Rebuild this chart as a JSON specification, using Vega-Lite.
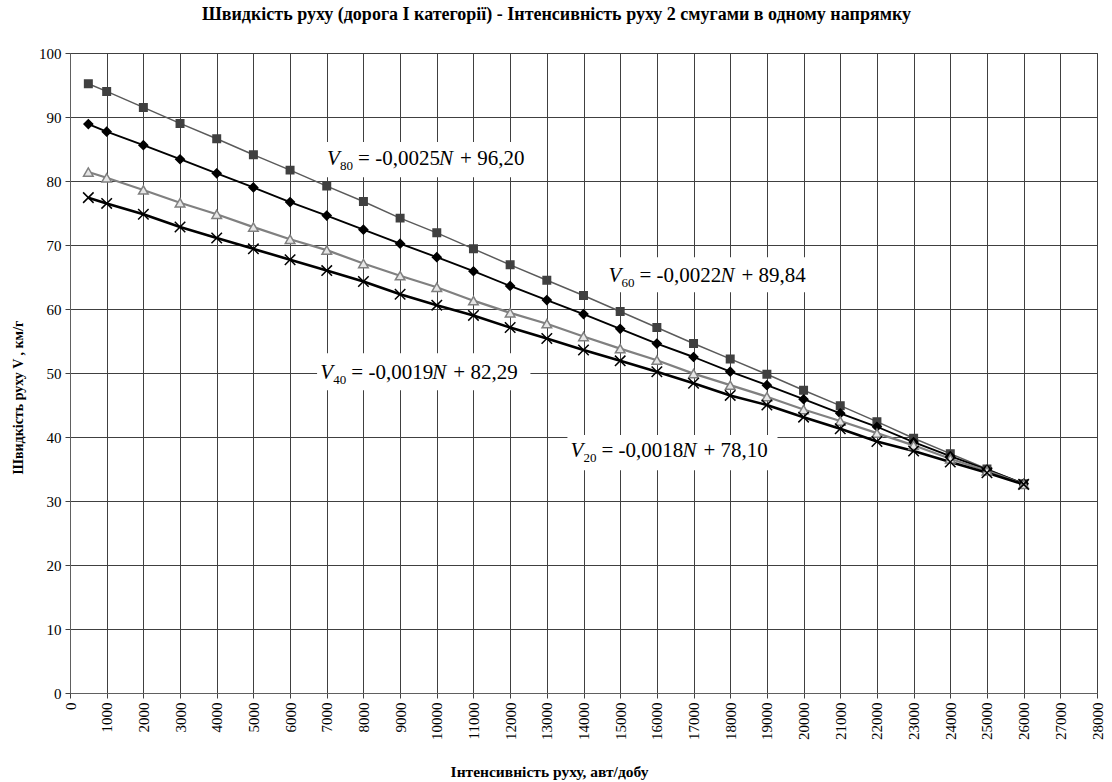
{
  "$schema": "https://vega.github.io/schema/vega-lite/v6.json",
  "autosize": "none",
  "width": 1027,
  "height": 640,
  "padding": {"left": 70, "top": 53, "right": 15, "bottom": 89},
  "background": "white",
  "config": {
    "font": "Liberation Serif, Times New Roman, serif",
    "view": {"stroke": "#404040", "strokeWidth": 1},
    "text": {"font": "Liberation Serif, Times New Roman, serif"}
  },
  "title": {
    "text": "Швидкість руху (дорога І категорії) - Інтенсивність руху 2 смугами в одному напрямку",
    "font": "Liberation Serif, Times New Roman, serif",
    "fontSize": 18,
    "fontWeight": "bold",
    "color": "#000000",
    "anchor": "middle",
    "frame": "group",
    "dx": -27,
    "offset": 22
  },
  "datasets": {
    "series": [
      {"N":500,"s":"V80","v":95.2},{"N":1000,"s":"V80","v":94.0},{"N":2000,"s":"V80","v":91.5},{"N":3000,"s":"V80","v":89.0},{"N":4000,"s":"V80","v":86.6},{"N":5000,"s":"V80","v":84.1},{"N":6000,"s":"V80","v":81.7},{"N":7000,"s":"V80","v":79.2},{"N":8000,"s":"V80","v":76.8},{"N":9000,"s":"V80","v":74.2},{"N":10000,"s":"V80","v":71.9},{"N":11000,"s":"V80","v":69.4},{"N":12000,"s":"V80","v":66.9},{"N":13000,"s":"V80","v":64.5},{"N":14000,"s":"V80","v":62.1},{"N":15000,"s":"V80","v":59.6},{"N":16000,"s":"V80","v":57.1},{"N":17000,"s":"V80","v":54.6},{"N":18000,"s":"V80","v":52.2},{"N":19000,"s":"V80","v":49.8},{"N":20000,"s":"V80","v":47.3},{"N":21000,"s":"V80","v":44.9},{"N":22000,"s":"V80","v":42.4},{"N":23000,"s":"V80","v":39.8},{"N":24000,"s":"V80","v":37.4},{"N":25000,"s":"V80","v":35.0},{"N":26000,"s":"V80","v":32.7},
      {"N":500,"s":"V60","v":88.9},{"N":1000,"s":"V60","v":87.7},{"N":2000,"s":"V60","v":85.6},{"N":3000,"s":"V60","v":83.4},{"N":4000,"s":"V60","v":81.2},{"N":5000,"s":"V60","v":79.0},{"N":6000,"s":"V60","v":76.7},{"N":7000,"s":"V60","v":74.6},{"N":8000,"s":"V60","v":72.4},{"N":9000,"s":"V60","v":70.2},{"N":10000,"s":"V60","v":68.1},{"N":11000,"s":"V60","v":65.9},{"N":12000,"s":"V60","v":63.6},{"N":13000,"s":"V60","v":61.4},{"N":14000,"s":"V60","v":59.2},{"N":15000,"s":"V60","v":56.9},{"N":16000,"s":"V60","v":54.6},{"N":17000,"s":"V60","v":52.5},{"N":18000,"s":"V60","v":50.2},{"N":19000,"s":"V60","v":48.1},{"N":20000,"s":"V60","v":45.9},{"N":21000,"s":"V60","v":43.7},{"N":22000,"s":"V60","v":41.6},{"N":23000,"s":"V60","v":39.2},{"N":24000,"s":"V60","v":37.0},{"N":25000,"s":"V60","v":34.9},{"N":26000,"s":"V60","v":32.7},
      {"N":500,"s":"V40","v":81.4},{"N":1000,"s":"V40","v":80.5},{"N":2000,"s":"V40","v":78.6},{"N":3000,"s":"V40","v":76.6},{"N":4000,"s":"V40","v":74.8},{"N":5000,"s":"V40","v":72.8},{"N":6000,"s":"V40","v":70.9},{"N":7000,"s":"V40","v":69.2},{"N":8000,"s":"V40","v":67.1},{"N":9000,"s":"V40","v":65.2},{"N":10000,"s":"V40","v":63.4},{"N":11000,"s":"V40","v":61.3},{"N":12000,"s":"V40","v":59.4},{"N":13000,"s":"V40","v":57.7},{"N":14000,"s":"V40","v":55.7},{"N":15000,"s":"V40","v":53.8},{"N":16000,"s":"V40","v":52.0},{"N":17000,"s":"V40","v":49.9},{"N":18000,"s":"V40","v":48.1},{"N":19000,"s":"V40","v":46.3},{"N":20000,"s":"V40","v":44.3},{"N":21000,"s":"V40","v":42.5},{"N":22000,"s":"V40","v":40.6},{"N":23000,"s":"V40","v":38.7},{"N":24000,"s":"V40","v":36.6},{"N":25000,"s":"V40","v":34.7},{"N":26000,"s":"V40","v":32.6},
      {"N":500,"s":"V20","v":77.4},{"N":1000,"s":"V20","v":76.5},{"N":2000,"s":"V20","v":74.8},{"N":3000,"s":"V20","v":72.8},{"N":4000,"s":"V20","v":71.1},{"N":5000,"s":"V20","v":69.4},{"N":6000,"s":"V20","v":67.7},{"N":7000,"s":"V20","v":66.0},{"N":8000,"s":"V20","v":64.3},{"N":9000,"s":"V20","v":62.3},{"N":10000,"s":"V20","v":60.6},{"N":11000,"s":"V20","v":59.0},{"N":12000,"s":"V20","v":57.1},{"N":13000,"s":"V20","v":55.4},{"N":14000,"s":"V20","v":53.6},{"N":15000,"s":"V20","v":51.9},{"N":16000,"s":"V20","v":50.2},{"N":17000,"s":"V20","v":48.4},{"N":18000,"s":"V20","v":46.5},{"N":19000,"s":"V20","v":45.0},{"N":20000,"s":"V20","v":43.1},{"N":21000,"s":"V20","v":41.3},{"N":22000,"s":"V20","v":39.3},{"N":23000,"s":"V20","v":37.8},{"N":24000,"s":"V20","v":36.1},{"N":25000,"s":"V20","v":34.4},{"N":26000,"s":"V20","v":32.6}
    ],
    "ann": [
      {"name":"V80","N":7009,"v":82.45,"N0":6880,"N1":12553,"v0":80.6,"v1":86.1,"sub":"80","mid":"= -0,0025","tail":"+ 96,20"},
      {"name":"V60","N":14680,"v":64.2,"N0":14572,"N1":20406,"v0":62.6,"v1":68.1,"sub":"60","mid":"= -0,0022","tail":"+ 89,84"},
      {"name":"V40","N":6826,"v":49.1,"N0":6736,"N1":12553,"v0":47.3,"v1":53.1,"sub":"40","mid":"= -0,0019","tail":"+ 82,29"},
      {"name":"V20","N":13643,"v":36.9,"N0":13562,"N1":19289,"v0":34.8,"v1":40.3,"sub":"20","mid":"= -0,0018","tail":"+ 78,10"}
    ]
  },
  "encoding": {
    "x": {"field": "N", "type": "quantitative", "scale": {"domain": [0, 28000], "nice": false, "zero": false},
      "axis": {
        "values": [0,1000,2000,3000,4000,5000,6000,7000,8000,9000,10000,11000,12000,13000,14000,15000,16000,17000,18000,19000,20000,21000,22000,23000,24000,25000,26000,27000,28000],
        "format": "d",
        "labelAngle": -90,
        "labelFont": "Liberation Serif, Times New Roman, serif",
        "labelFontSize": 15,
        "labelColor": "#000000",
        "labelPadding": 4,
        "labelOverlap": false,
        "labelFlush": false,
        "tickSize": 5,
        "tickColor": "#404040",
        "domainColor": "#606060",
        "gridColor": "#404040",
        "gridOpacity": 1,
        "grid": true,
        "title": "Інтенсивність руху, авт/добу",
        "titleFont": "Liberation Serif, Times New Roman, serif",
        "titleFontSize": 15.5,
        "titleFontWeight": "bold",
        "titleColor": "#000000",
        "titleX": 479,
        "titleY": 78,
        "titleAlign": "center",
        "titleBaseline": "middle"
      }},
    "y": {"field": "v", "type": "quantitative", "scale": {"domain": [0, 100], "nice": false},
      "axis": {
        "values": [0,10,20,30,40,50,60,70,80,90,100],
        "labelFont": "Liberation Serif, Times New Roman, serif",
        "labelFontSize": 15,
        "labelColor": "#000000",
        "labelPadding": 4,
        "tickSize": 5,
        "tickColor": "#404040",
        "domainColor": "#606060",
        "gridColor": "#404040",
        "gridOpacity": 1,
        "grid": true,
        "title": "Швидкість руху  V , км/г",
        "titleFont": "Liberation Serif, Times New Roman, serif",
        "titleFontSize": 14,
        "titleFontWeight": "bold",
        "titleColor": "#000000",
        "titleX": -52,
        "titleY": 344,
        "titleAngle": -90,
        "titleAlign": "center",
        "titleBaseline": "middle"
      }}
  },
  "layer": [
    {
      "data": {"name": "ann"},
      "mark": {"type": "rect", "fill": "white", "stroke": null},
      "encoding": {
        "x": {"field": "N0", "type": "quantitative", "scale": {"domain": [0, 28000], "nice": false, "zero": false},
          "axis": {
            "values": [0,1000,2000,3000,4000,5000,6000,7000,8000,9000,10000,11000,12000,13000,14000,15000,16000,17000,18000,19000,20000,21000,22000,23000,24000,25000,26000,27000,28000],
            "format": "d",
            "labelAngle": -90,
            "labelFont": "Liberation Serif, Times New Roman, serif",
            "labelFontSize": 15,
            "labelColor": "#000000",
            "labelPadding": 4,
            "labelOverlap": false,
            "labelFlush": false,
            "tickSize": 5,
            "tickColor": "#404040",
            "domainColor": "#606060",
            "gridColor": "#404040",
            "gridOpacity": 1,
            "grid": true,
            "title": "Інтенсивність руху, авт/добу",
            "titleFont": "Liberation Serif, Times New Roman, serif",
            "titleFontSize": 15.5,
            "titleFontWeight": "bold",
            "titleColor": "#000000",
            "titleX": 479,
            "titleY": 78,
            "titleAlign": "center",
            "titleBaseline": "middle"
          }},
        "x2": {"field": "N1"},
        "y": {"field": "v0", "type": "quantitative", "scale": {"domain": [0, 100], "nice": false},
          "axis": {
            "values": [0,10,20,30,40,50,60,70,80,90,100],
            "labelFont": "Liberation Serif, Times New Roman, serif",
            "labelFontSize": 15,
            "labelColor": "#000000",
            "labelPadding": 4,
            "tickSize": 5,
            "tickColor": "#404040",
            "domainColor": "#606060",
            "gridColor": "#404040",
            "gridOpacity": 1,
            "grid": true,
            "title": "Швидкість руху  V , км/г",
            "titleFont": "Liberation Serif, Times New Roman, serif",
            "titleFontSize": 14,
            "titleFontWeight": "bold",
            "titleColor": "#000000",
            "titleX": -52,
            "titleY": 344,
            "titleAngle": -90,
            "titleAlign": "center",
            "titleBaseline": "middle"
          }},
        "y2": {"field": "v1"}
      }
    },
    {
      "data": {"name": "series"},
      "mark": {"type": "line", "strokeCap": "butt", "strokeJoin": "round"},
      "encoding": {
        "color": {"field": "s", "type": "nominal", "scale": {"domain": ["V80","V60","V40","V20"], "range": ["#5a5a5a","#000000","#808080","#000000"]}, "legend": null},
        "strokeWidth": {"field": "s", "type": "nominal", "scale": {"domain": ["V80","V60","V40","V20"], "range": [1.5, 2.6, 3.2, 2.6]}, "legend": null},
        "order": {"field": "N", "type": "quantitative"}
      }
    },
    {
      "data": {"name": "series"},
      "mark": {"type": "point", "opacity": 1, "fillOpacity": 1, "strokeWidth": 1.5},
      "encoding": {
        "shape": {"field": "s", "type": "nominal", "scale": {"domain": ["V80","V60","V40","V20"], "range": ["square","diamond","triangle-up","M-1,-1L1,1M1,-1L-1,1"]}, "legend": null},
        "size": {"field": "s", "type": "nominal", "scale": {"domain": ["V80","V60","V40","V20"], "range": [56, 110, 70, 144]}, "legend": null},
        "fill": {"field": "s", "type": "nominal", "scale": {"domain": ["V80","V60","V40","V20"], "range": ["#404040","#000000","#e6e6e6","transparent"]}, "legend": null},
        "stroke": {"field": "s", "type": "nominal", "scale": {"domain": ["V80","V60","V40","V20"], "range": ["#404040","#000000","#808080","#000000"]}, "legend": null}
      }
    },
    {
      "data": {"name": "ann"},
      "mark": {"type": "text", "font": "Liberation Serif, Times New Roman, serif", "fontSize": 21, "fontStyle": "italic", "align": "left", "baseline": "alphabetic", "color": "#000000"},
      "encoding": {
        "text": {"value": "V"}
      }
    },
    {
      "data": {"name": "ann"},
      "mark": {"type": "text", "font": "Liberation Serif, Times New Roman, serif", "fontSize": 13, "align": "left", "baseline": "alphabetic", "dx": 13, "dy": 5, "color": "#000000"},
      "encoding": {
        "text": {"field": "sub"}
      }
    },
    {
      "data": {"name": "ann"},
      "mark": {"type": "text", "font": "Liberation Serif, Times New Roman, serif", "fontSize": 21, "align": "left", "baseline": "alphabetic", "dx": 31, "color": "#000000"},
      "encoding": {
        "text": {"field": "mid"}
      }
    },
    {
      "data": {"name": "ann"},
      "mark": {"type": "text", "font": "Liberation Serif, Times New Roman, serif", "fontSize": 21, "fontStyle": "italic", "align": "left", "baseline": "alphabetic", "dx": 112, "color": "#000000"},
      "encoding": {
        "text": {"value": "N"}
      }
    },
    {
      "data": {"name": "ann"},
      "mark": {"type": "text", "font": "Liberation Serif, Times New Roman, serif", "fontSize": 21, "align": "left", "baseline": "alphabetic", "dx": 133, "color": "#000000"},
      "encoding": {
        "text": {"field": "tail"}
      }
    }
  ]
}
